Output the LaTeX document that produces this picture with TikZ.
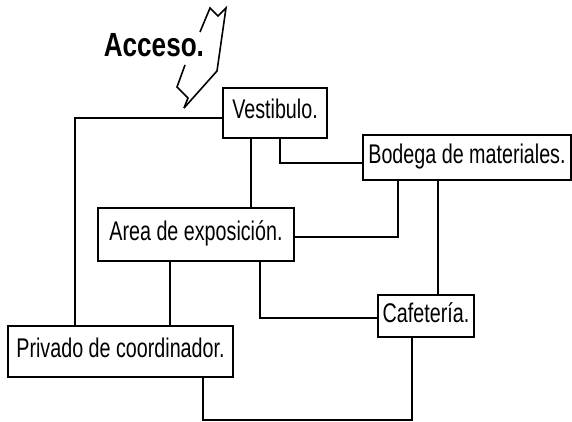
\documentclass[tikz,border=0pt]{standalone}
\usepackage{fontspec}
\newfontfamily\narrowsans{Liberation Sans}[FakeStretch=0.73]
\newfontfamily\widesans{Liberation Sans}[FakeStretch=0.78]
\usepackage{tikz}
\usetikzlibrary{calc}

\begin{document}
\begin{tikzpicture}[x=1pt,y=-1pt,line width=1.6pt,
  room/.style={draw,rectangle,inner sep=0pt,text height=20pt,text depth=8pt,
    font=\narrowsans\fontsize{27}{32}\selectfont},
  wire/.style={draw,line width=1.6pt}]
\useasboundingbox[fill=white] (0,0) rectangle (572,422);
% rooms
\node[room,minimum width=104pt,minimum height=50pt] (vest) at (275,113) {Vestibulo.};
\node[room,minimum width=208pt,minimum height=45pt] (bod) at (467,157.5) {Bodega de materiales.};
\node[room,minimum width=196pt,minimum height=53pt] (area) at (196,234.5) {Area de exposición.};
\node[room,minimum width=225pt,minimum height=51pt] (priv) at (120.5,351.5) {Privado de coordinador.};
\node[room,minimum width=96pt,minimum height=42pt] (caf) at (426,316) {Cafetería.};
% entrance
\node[anchor=base west,inner sep=0pt,font=\widesans\bfseries\fontsize{33.5}{40}\selectfont] (acc) at (103,57) {Acceso.};
\draw[line join=miter] (200,32) -- (210,8) -- (218,16) -- (226,8) -- (217,71) -- (184,108);
\draw[line join=miter] (185,65) -- (177,87) -- (188,98) -- (184,108);
% links
\draw[wire] ([yshift=-5pt]vest.west) -| ([xshift=-45.5pt]priv.north);
\draw[wire] ([xshift=-24pt]vest.south) -- ([xshift=-24pt]vest.south |- area.north);
\draw[wire] ([xshift=5pt]vest.south) |- ([yshift=-5.5pt]bod.west);
\draw[wire] ([xshift=-69pt]bod.south) |- ([yshift=-2.5pt]area.east);
\draw[wire] ([xshift=-29pt]bod.south) -- ([xshift=-29pt]bod.south |- caf.north);
\draw[wire] ([xshift=-26pt]area.south) -- ([xshift=-26pt]area.south |- priv.north);
\draw[wire] ([xshift=64pt]area.south) |- ([yshift=-2pt]caf.west);
\coordinate (low) at (412,420);
\draw[wire] ([xshift=82.5pt]priv.south) |- (low) -- ([xshift=-14pt]caf.south);
\end{tikzpicture}
\end{document}
